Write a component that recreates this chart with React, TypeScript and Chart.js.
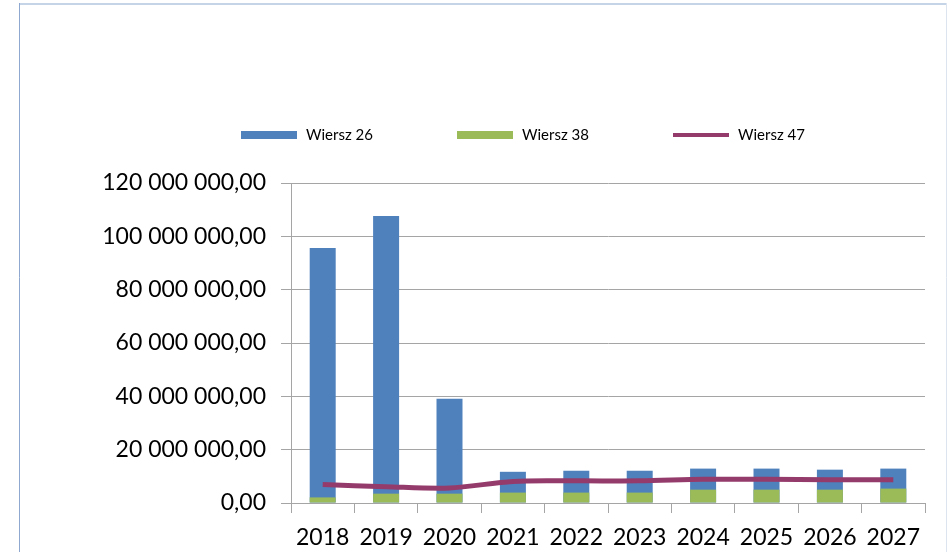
import React, { useEffect, useRef } from "react";
import { Chart, registerables } from "chart.js";

Chart.register(...registerables);

const categories = ["2018", "2019", "2020", "2021", "2022", "2023", "2024", "2025", "2026", "2027"];
const wiersz26 = [95600000, 107600000, 39100000, 11700000, 12100000, 12100000, 12900000, 12900000, 12500000, 12900000];
const wiersz38 = [2100000, 3500000, 3500000, 3900000, 3900000, 3900000, 5000000, 5000000, 5000000, 5400000];
const wiersz47 = [6900000, 6100000, 5600000, 8100000, 8300000, 8300000, 8900000, 8900000, 8700000, 8700000];
const seriesNames = ["Wiersz 26", "Wiersz 38", "Wiersz 47"];
const yMin = 0;
const yMax = 120000000;
const yStep = 20000000;

const FONT = "Lato, 'DejaVu Sans', sans-serif";

function fmt(v: number): string {
  const s = Math.round(v).toString().replace(/\B(?=(\d{3})+(?!\d))/g, " ");
  return s + ",00";
}

const framePlugin = {
  id: "frame",
  beforeDraw(chart: any) {
    const ctx = chart.ctx;
    ctx.save();
    ctx.fillStyle = "#ffffff";
    ctx.fillRect(0, 0, chart.width, chart.height);
    ctx.lineWidth = 2;
    ctx.strokeStyle = "#C6D4E8";
    ctx.beginPath();
    ctx.moveTo(19, 4);
    ctx.lineTo(947, 4);
    ctx.stroke();
    ctx.lineWidth = 1;
    ctx.strokeStyle = "#8EA8D0";
    ctx.beginPath();
    ctx.moveTo(19.5, 3);
    ctx.lineTo(19.5, chart.height);
    ctx.stroke();
    ctx.strokeStyle = "#DCE4F0";
    ctx.beginPath();
    ctx.moveTo(946.5, 3);
    ctx.lineTo(946.5, chart.height);
    ctx.stroke();
    ctx.restore();
  },
};

const legendPlugin = {
  id: "customLegend",
  afterDraw(chart: any) {
    const ctx = chart.ctx;
    const cy = 135;
    ctx.save();
    ctx.font = "15px " + FONT;
    ctx.textBaseline = "middle";
    ctx.textAlign = "left";
    chart.data.datasets.forEach((ds: any, i: number) => {
      const x0 = 241 + i * 216;
      if (ds.type === "line") {
        ctx.strokeStyle = ds.borderColor;
        ctx.lineWidth = 4;
        ctx.beginPath();
        ctx.moveTo(x0, cy);
        ctx.lineTo(x0 + 56, cy);
        ctx.stroke();
      } else {
        ctx.fillStyle = ds.backgroundColor;
        ctx.fillRect(x0, cy - 4, 56, 8);
      }
      ctx.fillStyle = "#000000";
      ctx.fillText(ds.label, x0 + 65, cy);
    });
    ctx.restore();
  },
};

export default function App() {
  const ref = useRef<HTMLCanvasElement | null>(null);
  useEffect(() => {
    document.body.style.margin = "0";
    const canvas = ref.current;
    if (!canvas) return;
    const chart = new Chart(canvas, {
      type: "bar",
      data: {
        labels: categories,
        datasets: [
          {
            type: "bar",
            label: seriesNames[0],
            data: wiersz26,
            backgroundColor: "#4F81BD",
            grouped: false,
            order: 3,
            barPercentage: 0.41,
            categoryPercentage: 1,
          } as any,
          {
            type: "bar",
            label: seriesNames[1],
            data: wiersz38,
            backgroundColor: "#9BBB59",
            grouped: false,
            order: 2,
            barPercentage: 0.41,
            categoryPercentage: 1,
          } as any,
          {
            type: "line",
            label: seriesNames[2],
            data: wiersz47,
            borderColor: "#953B6B",
            backgroundColor: "#953B6B",
            borderWidth: 5,
            pointRadius: 0,
            tension: 0.3,
            order: 1,
          } as any,
        ],
      },
      options: {
        responsive: false,
        animation: false,
        layout: { padding: { left: 0, right: 22, top: 183, bottom: 0 } },
        plugins: {
          legend: { display: false },
          tooltip: { enabled: false },
        },
        scales: {
          x: {
            offset: true,
            grid: {
              display: true,
              drawOnChartArea: false,
              drawTicks: true,
              tickLength: 10,
              offset: true,
              color: "#A5A5A5",
            },
            border: { display: true, color: "#A5A5A5" },
            ticks: {
              color: "#000000",
              font: { family: FONT, size: 23 },
              padding: 11,
              maxRotation: 0,
            },
            afterFit(scale: any) {
              scale.height = 49;
            },
          },
          y: {
            min: yMin,
            max: yMax,
            grid: {
              color: "#A5A5A5",
              drawTicks: true,
              tickLength: 10,
            },
            border: { display: true, color: "#A5A5A5" },
            ticks: {
              stepSize: yStep,
              color: "#000000",
              font: { family: FONT, size: 23 },
              padding: 15,
              callback: (v: any) => fmt(Number(v)),
            },
            afterFit(scale: any) {
              scale.width = 291;
            },
          },
        },
      },
      plugins: [framePlugin, legendPlugin],
    });
    return () => chart.destroy();
  }, []);
  return (
    <div style={{ width: 947, height: 552, position: "relative" }}>
      <canvas ref={ref} width={947} height={552} style={{ display: "block" }} />
    </div>
  );
}
